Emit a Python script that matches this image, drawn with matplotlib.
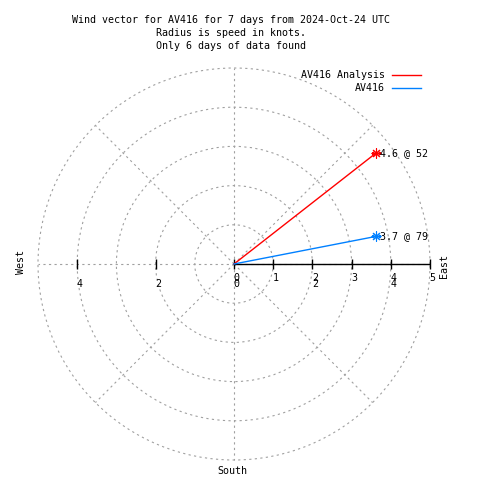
import matplotlib
matplotlib.use("Agg")
import matplotlib.pyplot as plt
import numpy as np

title_lines = ["Wind vector for AV416 for 7 days from 2024-Oct-24 UTC",
               "Radius is speed in knots.",
               "Only 6 days of data found"]
series = ["AV416 Analysis", "AV416"]
speeds = [4.6, 3.7]
directions = [52, 79]
colors = ["#ff0000", "#0080ff"]
r_ticks = [1, 2, 3, 4, 5]
east_ticks = [0, 1, 2, 3, 4, 5]
mirror_ticks = [-4, -2, 0, 2, 4]

plt.rcParams["font.family"] = ["DejaVu Sans Mono"]
fs = 7.2
W = 480.0

fig = plt.figure(figsize=(4.8, 4.8), dpi=100)
ax = fig.add_axes([38 / W, 20 / W, 392 / W, 392 / W], projection="polar")
ax.set_rlim(0, 5)
ax.set_rticks(r_ticks)
ax.set_yticklabels([])
ax.set_thetagrids(range(0, 360, 45), labels=[])
ax.spines["polar"].set_visible(False)
ax.grid(True, color="#a0a0a0", linestyle=(0, (2, 3)), linewidth=0.8)
for gl in ax.yaxis.get_gridlines() + ax.xaxis.get_gridlines():
    gl.set_clip_on(False)

# radial axis drawn towards East, with gnuplot style ticks
ax.plot([0, 0], [0, 5], color="black", lw=1)
ax.plot(np.zeros(len(east_ticks)), east_ticks, ls="none", marker="|",
        ms=7, mew=1, color="black", clip_on=False)
ax.plot([np.pi, np.pi], [2, 4], ls="none", marker="|",
        ms=7, mew=1, color="black", clip_on=False)
for v in east_ticks:
    ax.annotate(str(v), (0, v), xytext=(1.8, -10), textcoords="offset points",
                ha="center", va="center", fontsize=fs, annotation_clip=False)
for v in mirror_ticks:
    th = np.pi if v < 0 else 0
    ax.annotate(str(abs(v)), (th, abs(v)), xytext=(1.8, -14.2),
                textcoords="offset points", ha="center", va="center",
                fontsize=fs, annotation_clip=False)

# wind vectors
for name, spd, d, c in zip(series, speeds, directions, colors):
    th = np.radians(90 - d)
    ax.plot([th, th], [0, spd], color=c, lw=1, label=name)
    ax.plot([th], [spd], ls="none", marker=(8, 2, 0), ms=7, mew=0.8, color=c)
    ax.annotate(f"{spd} @ {d}", (th, spd), xytext=(2.5, 0),
                textcoords="offset points", ha="left", va="center",
                fontsize=fs, annotation_clip=False)

fig.legend(loc="upper right", bbox_to_anchor=(421 / W, 1 - 70 / W),
           frameon=False, markerfirst=False, handlelength=2.9,
           handletextpad=0.7, labelspacing=0.3, borderpad=0,
           borderaxespad=0, fontsize=fs)

fig.text(21 / W, 1 - 262 / W, "West", rotation=90, ha="center", va="center", fontsize=fs)
fig.text(444 / W, 1 - 266 / W, "East", rotation=90, ha="center", va="center", fontsize=fs)
fig.text(232 / W, 1 - 471 / W, "South", ha="center", va="center", fontsize=fs)

for i, line in enumerate(title_lines):
    fig.text(231 / W, 1 - (20 + 13 * i) / W, line, ha="center", va="center", fontsize=fs)

fig.savefig("out.png", dpi=100)
